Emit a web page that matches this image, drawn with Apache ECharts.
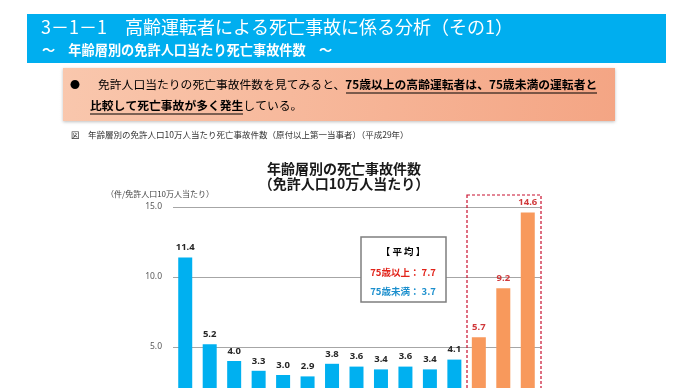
<!DOCTYPE html>
<html><head><meta charset="utf-8">
<script src="https://cdn.jsdelivr.net/npm/echarts@6/dist/echarts.min.js"></script>
<style>html,body{margin:0;padding:0;background:#fff}#c{width:690px;height:388px}</style>
</head><body><div id="c"></div>
<script>
const categories = ['16-19歳','20-24歳','25-29歳','30-34歳','35-39歳','40-44歳','45-49歳','50-54歳','55-59歳','60-64歳','65-69歳','70-74歳','75-79歳','80-84歳','85歳以上'];
const values = [11.4, 5.2, 4.0, 3.3, 3.0, 2.9, 3.8, 3.6, 3.4, 3.6, 3.4, 4.1, 5.7, 9.2, 14.6];
const isOver75 = [0,0,0,0,0,0,0,0,0,0,0,0,1,1,1];
const yTicks = [0, 5, 10, 15];
const avgOver75 = 7.7;
const avgUnder75 = 3.7;

const JP = '"Noto Sans CJK JP", "Noto Sans", sans-serif';
const blue = '#00b0f0', orange = '#f8995c';

const chart = echarts.init(document.getElementById('c'), null, {renderer: 'canvas'});
chart.setOption({
  animation: false,
  backgroundColor: '#fff',
  grid: {left: 173, right: 150, top: 207, bottom: -29, containLabel: false, outerBoundsMode: 'none'},
  xAxis: {
    type: 'category', data: categories,
    axisLine: {lineStyle: {color: '#a6a6a6'}}, axisTick: {show: false},
    axisLabel: {fontSize: 8, color: '#333'}
  },
  yAxis: {
    type: 'value', min: yTicks[0], max: yTicks[yTicks.length - 1], interval: 5,
    axisLine: {show: false}, axisTick: {show: false},
    axisLabel: {margin: 11, fontSize: 8.5, color: '#595959', fontFamily: '"Noto Sans", sans-serif',
      formatter: v => v.toFixed(1)},
    splitLine: {lineStyle: {color: '#a6a6a6', width: 1}}
  },
  series: [{
    type: 'bar', barWidth: 14,
    data: values.map((v, i) => ({
      value: v,
      itemStyle: {color: isOver75[i] ? orange : blue},
      label: {color: isOver75[i] ? '#d0393b' : '#262626'}
    })),
    label: {show: true, position: 'top', distance: 5, fontSize: 9.5, fontWeight: 'bold',
      fontFamily: '"Noto Sans", sans-serif', formatter: p => p.value.toFixed(1)}
  }],
  graphic: [
    {type: 'rect', shape: {x: 27, y: 14, width: 639, height: 49}, style: {fill: '#00aeef'}},
    {type: 'text', x: 41, y: 27, style: {text: '3－1－1　高齢運転者による死亡事故に係る分析（その1）', fill: '#fff', font: 'normal 18px ' + JP, textVerticalAlign: 'middle'}},
    {type: 'text', x: 42, y: 50, style: {text: '～　年齢層別の免許人口当たり死亡事故件数　～', fill: '#fff', font: 'bold 13.2px ' + JP, textVerticalAlign: 'middle'}},
    {type: 'rect', shape: {x: 63, y: 68, width: 552, height: 53},
      style: {fill: new echarts.graphic.LinearGradient(0, 0, 1, 1, [{offset: 0, color: '#f9c7ad'}, {offset: 1, color: '#f4a584'}]),
        shadowBlur: 3, shadowColor: 'rgba(0,0,0,0.25)', shadowOffsetY: 1}},
    {type: 'text', x: 70, y: 85, style: {text: '●', fill: '#000', font: '10px ' + JP, textVerticalAlign: 'middle'}},
    {type: 'text', x: 98, y: 85, style: {
      text: '{n|免許人口当たりの死亡事故件数を見てみると、}{b|75歳以上の高齢運転者は、75歳未満の運転者と}',
      rich: {n: {font: 'normal 11.8px ' + JP, fill: '#000'}, b: {font: 'bold 11.8px ' + JP, fill: '#000'}},
      textVerticalAlign: 'middle'}},
    {type: 'text', x: 90, y: 106, style: {
      text: '{b|比較して死亡事故が多く発生}{n|している。}',
      rich: {n: {font: 'normal 11.8px ' + JP, fill: '#000'}, b: {font: 'bold 11.8px ' + JP, fill: '#000'}},
      textVerticalAlign: 'middle'}},
    {type: 'line', shape: {x1: 346, y1: 93, x2: 597, y2: 93}, style: {stroke: '#000', lineWidth: 1}},
    {type: 'line', shape: {x1: 90, y1: 114, x2: 243, y2: 114}, style: {stroke: '#000', lineWidth: 1}},
    {type: 'text', x: 71, y: 135, style: {text: '図　年齢層別の免許人口10万人当たり死亡事故件数（原付以上第一当事者）（平成29年）', fill: '#333', font: '8.5px ' + JP, textVerticalAlign: 'middle'}},
    {type: 'text', x: 344, y: 169, style: {text: '年齢層別の死亡事故件数', fill: '#1a1a1a', font: 'bold 14px ' + JP, textAlign: 'center', textVerticalAlign: 'middle'}},
    {type: 'text', x: 344, y: 184, style: {text: '（免許人口10万人当たり）', fill: '#1a1a1a', font: 'bold 14px ' + JP, textAlign: 'center', textVerticalAlign: 'middle'}},
    {type: 'text', x: 160, y: 194, style: {text: '（件/免許人口10万人当たり）', fill: '#404040', font: '8px ' + JP, textAlign: 'center', textVerticalAlign: 'middle'}},
    {type: 'rect', shape: {x: 467, y: 195, width: 74, height: 230}, style: {fill: 'none', stroke: '#c8102e', lineWidth: 1.2, lineDash: [3, 2]}, z: 10},
    {type: 'rect', shape: {x: 361, y: 237, width: 85, height: 65}, style: {fill: '#fff', stroke: '#7f7f7f', lineWidth: 1.5}, z: 10},
    {type: 'text', x: 403, y: 251, z: 11, style: {text: '【 平 均 】', fill: '#000', font: 'bold 9.5px ' + JP, textAlign: 'center', textVerticalAlign: 'middle'}},
    {type: 'text', x: 403, y: 272, z: 11, style: {text: '75歳以上： ' + avgOver75.toFixed(1), fill: '#e2231a', font: 'bold 9.5px ' + JP, textAlign: 'center', textVerticalAlign: 'middle'}},
    {type: 'text', x: 403, y: 291, z: 11, style: {text: '75歳未満： ' + avgUnder75.toFixed(1), fill: '#1c8fcd', font: 'bold 9.5px ' + JP, textAlign: 'center', textVerticalAlign: 'middle'}}
  ]
});
</script></body></html>
